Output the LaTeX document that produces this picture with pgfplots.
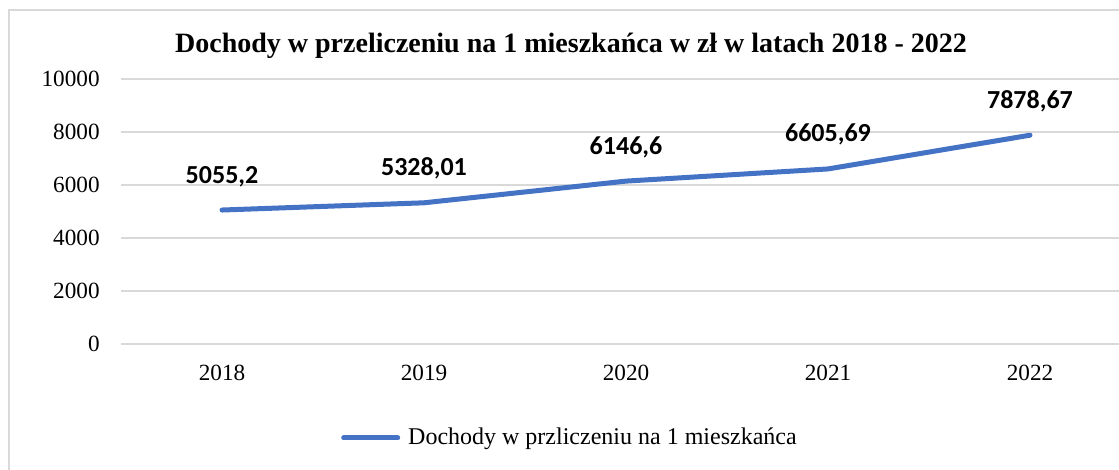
\documentclass[border=0pt]{standalone}
\usepackage{pgfplots}
\pgfplotsset{compat=1.18}
\usepackage{fontspec}
\setmainfont{Liberation Serif}
\newfontfamily\calibri{Carlito}
\definecolor{linecol}{HTML}{4472C4}
\definecolor{gridcol}{HTML}{D9D9D9}
\begin{document}
\begin{tikzpicture}
\useasboundingbox (0,0) rectangle (559.5pt,235pt);
\draw[gridcol, line width=1pt] (4.5pt,-20pt) rectangle (566.5pt,230pt);
\node[font=\fontsize{14}{16}\selectfont\bfseries] at (285.5pt,212pt) {Dochody w przeliczeniu na 1 mieszkańca w zł w latach 2018 - 2022};
\begin{axis}[
  at={(60.5pt,63pt)}, anchor=south west,
  scale only axis, width=505pt, height=132.5pt,
  xmin=2017.5, xmax=2022.5, ymin=0, ymax=10000,
  xtick={2018,2019,2020,2021,2022},
  ytick={0,2000,4000,6000,8000,10000},
  scaled ticks=false,
  axis line style={draw=none},
  major tick length=0pt,
  ymajorgrids, grid style={gridcol, line width=0.9pt},
  /pgf/number format/assume math mode=true,
  /pgf/number format/set thousands separator={},
  tick label style={font=\fontsize{11.6}{13}\selectfont},
  xticklabel style={anchor=base, yshift=-18.5pt, inner sep=0pt},
  yticklabel style={anchor=east, inner sep=0pt, xshift=-10.5pt},
  legend style={at={(0.4455,-0.3547)}, anchor=center, draw=none, fill=none,
    font=\fontsize{12}{14}\selectfont, inner sep=0pt,
    /tikz/every even column/.append style={column sep=0pt}},
  legend cell align=left,
  legend image code/.code={\draw[#1, line cap=round] (0pt,0pt) -- (27pt,0pt);},
  nodes near coords,
  point meta=explicit symbolic,
  nodes near coords style={font=\calibri\bfseries\fontsize{13}{15}\selectfont, anchor=base, yshift=13.5pt, inner sep=0pt, text=black},
]
\addplot[linecol, line width=2.5pt, line join=round, line cap=round, mark=none]
  table[meta=lab] {
x y lab
2018 5055.2 5055,2
2019 5328.01 5328,01
2020 6146.6 6146,6
2021 6605.69 6605,69
2022 7878.67 7878,67
};
\addlegendentry{\hspace{2pt}Dochody w przliczeniu na 1 mieszkańca}
\end{axis}
\end{tikzpicture}
\end{document}
